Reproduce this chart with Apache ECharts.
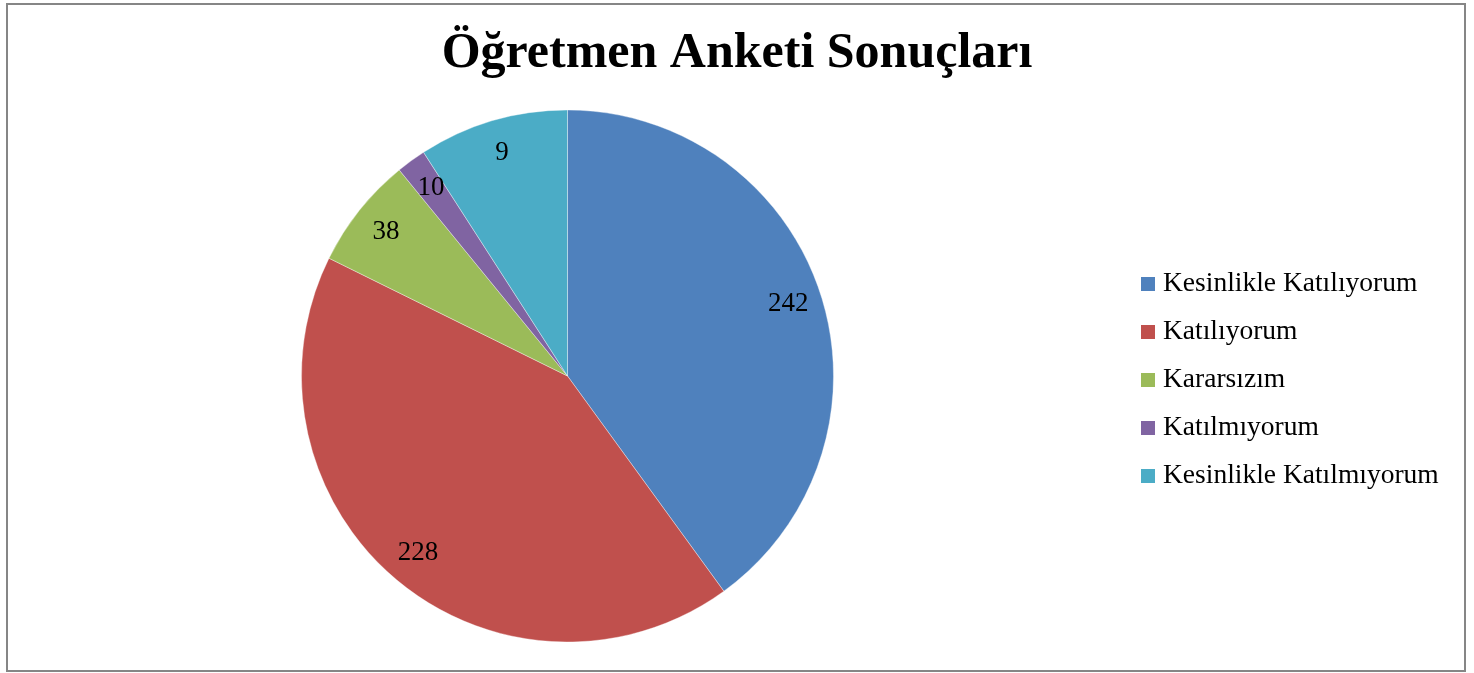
<!DOCTYPE html>
<html>
<head>
<meta charset="utf-8">
<script src="https://cdn.jsdelivr.net/npm/echarts@6/dist/echarts.min.js"></script>
<style>
html,body{margin:0;padding:0;background:#fff;}
#chart{width:1474px;height:673px;}
</style>
</head>
<body>
<div id="chart"></div>
<script>
// Data
const titleText = 'Öğretmen Anketi Sonuçları';
const categories = ['Kesinlikle Katılıyorum', 'Katılıyorum', 'Kararsızım', 'Katılmıyorum', 'Kesinlikle Katılmıyorum'];
// slice shares (percent of the circle as drawn)
const sliceShares = [40.0, 42.3, 6.8, 1.8, 9.1];
// numbers written on the slices
const labelValues = [242, 228, 38, 10, 9];
const colors = ['#4F81BD', '#C0504D', '#9BBB59', '#8064A2', '#4BACC6'];

const FONT = '"Liberation Serif", "DejaVu Serif", serif';
const R = 266;
const CENTER = [567.5, 376];

const chart = echarts.init(document.getElementById('chart'), null, {renderer: 'canvas'});

const pieData = categories.map((c, i) => ({name: c, value: sliceShares[i], itemStyle: {color: colors[i]}}));
const labelData = categories.map((c, i) => ({name: c, value: sliceShares[i]}));

chart.setOption({
  animation: false,
  backgroundColor: '#fff',
  title: {
    text: titleText,
    left: 'center',
    top: 24,
    textStyle: {fontFamily: FONT, fontWeight: 'bold', fontSize: 50, color: '#000'}
  },
  legend: {
    orient: 'vertical',
    left: 1136,
    top: 265,
    itemWidth: 14,
    itemHeight: 14,
    itemGap: 20,
    icon: 'rect',
    data: categories,
    selectedMode: false,
    textStyle: {fontFamily: FONT, fontSize: 27.5, color: '#000', lineHeight: 27, padding: [0, 0, 0, 3]},
    itemStyle: {borderWidth: 0}
  },
  graphic: [{
    type: 'rect',
    shape: {x: 7, y: 4, width: 1458, height: 667},
    style: {fill: 'none', stroke: '#868686', lineWidth: 2},
    silent: true,
    z: 100
  }],
  series: [
    {
      type: 'pie',
      name: 'main',
      center: CENTER,
      radius: R,
      startAngle: 90,
      clockwise: true,
      avoidLabelOverlap: false,
      label: {show: false},
      labelLine: {show: false},
      itemStyle: {borderColor: 'rgba(255,255,255,0.6)', borderWidth: 0.6},
      emphasis: {disabled: true},
      data: pieData
    },
    {
      type: 'pie',
      name: 'labels',
      center: CENTER,
      radius: [R * 0.722, R],
      startAngle: 90,
      clockwise: true,
      silent: true,
      legendHoverLink: false,
      avoidLabelOverlap: false,
      itemStyle: {color: 'rgba(0,0,0,0)', borderWidth: 0},
      label: {
        show: true,
        position: 'inside',
        formatter: p => String(labelValues[p.dataIndex]),
        fontFamily: FONT,
        fontSize: 27,
        color: '#000'
      },
      labelLine: {show: false},
      emphasis: {disabled: true},
      data: labelData
    }
  ]
});
</script>
</body>
</html>
